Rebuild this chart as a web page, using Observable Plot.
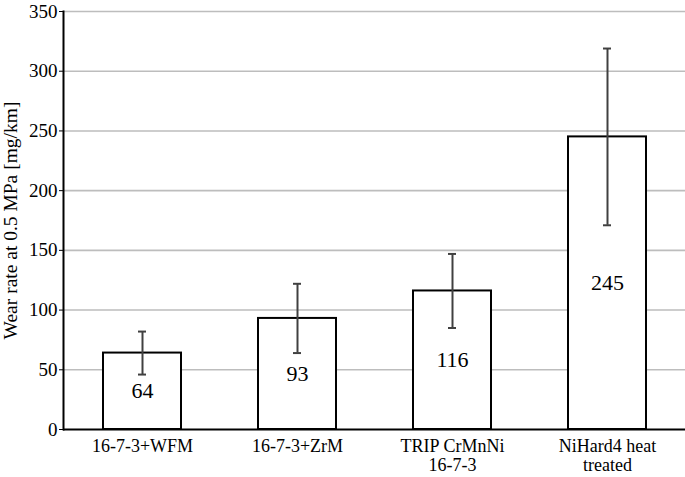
<!DOCTYPE html>
<html>
<head>
<meta charset="utf-8">
<script src="https://cdn.jsdelivr.net/npm/d3@7"></script>
<script src="https://cdn.jsdelivr.net/npm/@observablehq/plot@0.6"></script>
<style>
  html, body { margin: 0; padding: 0; background: #fff; }
  #chart svg { display: block; background: #fff; }
</style>
</head>
<body>
<div id="chart"></div>
<script>
const categories = ["16-7-3+WFM", "16-7-3+ZrM", "TRIP CrMnNi\n16-7-3", "NiHard4 heat\ntreated"];
const values = [64, 93, 116, 245];
const errors = [18, 29, 31, 74];
const yTicks = [0, 50, 100, 150, 200, 250, 300, 350];
const yTitle = "Wear rate at 0.5 MPa [mg/km]";

const data = categories.map((c, i) => ({cat: c, value: values[i], err: errors[i]}));
const FONT = "'Liberation Serif', 'Times New Roman', Times, serif";

const chart = Plot.plot({
  width: 685,
  height: 477,
  marginLeft: 63,
  marginRight: 0,
  marginTop: 11,
  marginBottom: 48,
  style: `font-family: ${FONT}; background: #fff;`,
  x: {domain: categories, paddingInner: 0.5, paddingOuter: 0.25, label: null},
  y: {domain: [0, 350], label: null},
  marks: [
    Plot.ruleY(yTicks.filter(t => t > 0), {stroke: "#bdbdbd", strokeWidth: 1.6}),
    Plot.barY(data, {x: "cat", y: "value", fill: "white", stroke: "black", strokeWidth: 2}),
    Plot.ruleX(data, {x: "cat", y1: d => d.value - d.err, y2: d => d.value + d.err, stroke: "#404040", strokeWidth: 2}),
    Plot.tickY(data, {x: "cat", y: d => d.value - d.err, insetLeft: 35, insetRight: 35, stroke: "#404040", strokeWidth: 2}),
    Plot.tickY(data, {x: "cat", y: d => d.value + d.err, insetLeft: 35, insetRight: 35, stroke: "#404040", strokeWidth: 2}),
    Plot.text(data, {x: "cat", y: d => d.value / 2, text: d => String(d.value), fontSize: 22, fontFamily: FONT, fill: "black"}),
    Plot.axisY({ticks: yTicks, tickSize: 4, tickPadding: 2, fontSize: 19, fontFamily: FONT, label: null, color: "black"}),
    Plot.axisX({tickSize: 0, tickPadding: 8, fontSize: 18, fontFamily: FONT, label: null, lineHeight: 1.1, color: "black"}),
    Plot.ruleY([0], {stroke: "black", strokeWidth: 2}),
    Plot.frame({anchor: "left", stroke: "black", strokeWidth: 2}),
    Plot.text([yTitle], {frameAnchor: "left", textAnchor: "middle", rotate: -90, dx: -53, fontSize: 19.5, fontFamily: FONT, fill: "black"})
  ]
});
document.getElementById("chart").appendChild(chart);
</script>
</body>
</html>
